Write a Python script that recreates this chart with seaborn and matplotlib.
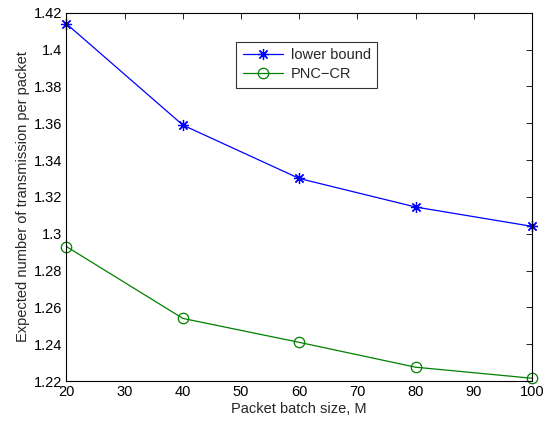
import matplotlib
matplotlib.use("Agg")
import matplotlib.pyplot as plt
import seaborn as sns
import pandas as pd
from matplotlib.ticker import FuncFormatter

batch_size = [20, 40, 60, 80, 100]
lower_bound = [1.414, 1.359, 1.330, 1.3145, 1.304]
pnc_cr = [1.293, 1.254, 1.241, 1.2275, 1.2215]
series_names = ["lower bound", "PNC\u2212CR"]

df = pd.DataFrame({
    "M": batch_size * 2,
    "value": lower_bound + pnc_cr,
    "series": [series_names[0]] * len(batch_size) + [series_names[1]] * len(batch_size),
})

sns.set_theme(style="white")
plt.rcParams["font.family"] = ["Liberation Sans", "DejaVu Sans"]
fs = 10.5
plt.rcParams["font.size"] = fs

fig = plt.figure(figsize=(5.44, 4.26), dpi=100)
ax = fig.add_axes([0.1222, 0.1056, 0.8558, 0.8644])

palette = {series_names[0]: "#0000ff", series_names[1]: "#008000"}
style = {
    series_names[0]: dict(marker=(8, 2, 0), markersize=8, markerfacecolor="#0000ff"),
    series_names[1]: dict(marker="o", markersize=7.5, markerfacecolor="none"),
}
for name in series_names:
    sub = df[df["series"] == name]
    sns.lineplot(data=sub, x="M", y="value", ax=ax, color=palette[name],
                 markeredgecolor=palette[name], markeredgewidth=0.9,
                 linewidth=0.9, label=name, clip_on=False, **style[name])

ax.set_xlim(20, 100)
ax.set_ylim(1.22, 1.42)
ax.set_xticks(range(20, 101, 10))
ax.set_yticks([1.22 + 0.02 * i for i in range(11)])
ax.yaxis.set_major_formatter(FuncFormatter(lambda v, p: f"{round(v, 2):g}"))
ax.tick_params(direction="in", length=4, width=0.6, top=True, right=True,
               labelsize=fs, colors="black", pad=3)
for s in ax.spines.values():
    s.set_color("black")
    s.set_linewidth(0.8)

ax.set_xlabel("Packet batch size, M", fontsize=fs, labelpad=2)
ax.set_ylabel("Expected number of transmission per packet", fontsize=fs, labelpad=3)

leg = ax.legend(loc="upper left", bbox_to_anchor=(0.364, 0.922), frameon=True,
                fancybox=False, edgecolor="black", fontsize=fs,
                handlelength=2.8, handletextpad=0.5, borderpad=0.45,
                labelspacing=0.35, borderaxespad=0)
leg.get_frame().set_linewidth(0.8)

fig.savefig("out.png", dpi=100)
